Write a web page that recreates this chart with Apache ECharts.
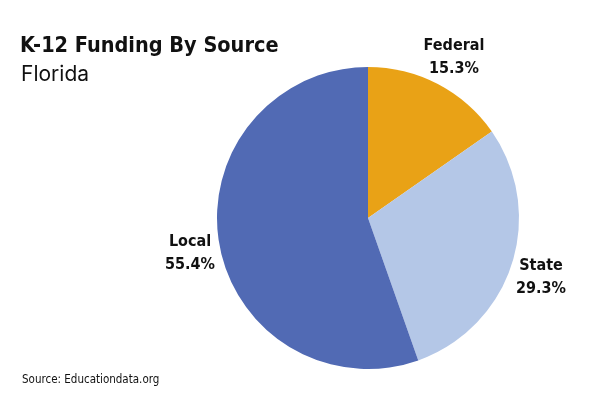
<!DOCTYPE html>
<html><head><meta charset="utf-8">
<script src="https://cdn.jsdelivr.net/npm/echarts@6/dist/echarts.min.js"></script>
<style>html,body{margin:0;padding:0;background:#fff}#c{width:600px;height:400px}</style>
</head><body><div id="c"></div>
<script>
var categories = ['Federal', 'State', 'Local'];
var values = [15.3, 29.3, 55.4];
var colors = ['#E9A216', '#B4C7E7', '#516AB4'];
var condensed = '"DejaVu Sans Condensed", "Liberation Sans Narrow", sans-serif';
var labelSpots = [[454, 57], [541, 277], [190, 253]];
var chart = echarts.init(document.getElementById('c'));
chart.setOption({
  backgroundColor: '#fff',
  animation: false,
  title: [
    {text: 'K-12 Funding By Source', left: 15, top: 30, textStyle: {fontFamily: condensed, fontWeight: 'bold', fontSize: 21.5, color: '#111'}},
    {text: 'Florida', left: 16, top: 59, textStyle: {fontFamily: 'Inter, "Noto Sans", sans-serif', fontWeight: 'normal', fontSize: 21, color: '#111'}},
    {text: 'Source: Educationdata.org', left: 17, top: 369, textStyle: {fontFamily: condensed, fontWeight: 'normal', fontSize: 11.5, color: '#111'}}
  ],
  series: [{
    type: 'pie',
    center: [368, 218],
    radius: 151,
    startAngle: 90,
    clockwise: true,
    data: categories.map(function (c, i) { return {name: c, value: values[i], itemStyle: {color: colors[i]}}; }),
    label: {
      show: true,
      position: 'inside',
      overflow: 'none',
      formatter: function (p) { return p.name + '\n' + p.value.toFixed(1) + '%'; },
      fontFamily: condensed,
      fontWeight: 'bold',
      fontSize: 16,
      lineHeight: 23,
      color: '#111',
      align: 'center'
    },
    labelLine: {show: false},
    labelLayout: function (p) {
      var s = labelSpots[p.dataIndex];
      return {x: s[0], y: s[1], align: 'center', verticalAlign: 'middle'};
    }
  }]
});
</script></body></html>
